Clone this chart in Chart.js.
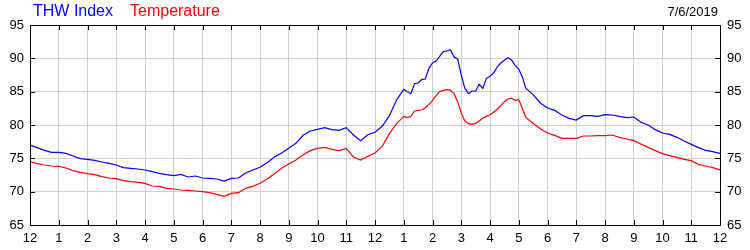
<!DOCTYPE html>
<html>
<head>
<meta charset="utf-8">
<script src="https://cdn.jsdelivr.net/npm/chart.js@4.4.1/dist/chart.umd.min.js"></script>
<style>
  body { margin: 0; background: #fff; }
  #wrap { width: 750px; height: 250px; }
</style>
</head>
<body>
<div id="wrap"><canvas id="weatherChart" width="750" height="250"></canvas></div>
<script>
// Horas del día (0 = medianoche, 24 = medianoche siguiente)
const times = [
    0, 0.25, 0.5, 0.75,
    1, 1.25, 1.5, 1.75,
    2, 2.25, 2.5, 2.75,
    3, 3.25, 3.5, 3.75,
    4, 4.25, 4.5, 4.75,
    5, 5.25, 5.5, 5.75,
    6, 6.25, 6.5, 6.75,
    7, 7.25, 7.5, 7.75,
    8, 8.25, 8.5, 8.75,
    9, 9.25, 9.5, 9.75,
    10, 10.25, 10.5, 10.75,
    11, 11.25, 11.5, 11.75,
    12, 12.25, 12.5, 12.75,
    13, 13.125, 13.25, 13.375, 13.5, 13.625, 13.75, 13.875,
    14, 14.125, 14.25, 14.375, 14.5, 14.625, 14.75, 14.875,
    15, 15.125, 15.25, 15.375, 15.5, 15.625, 15.75, 15.875,
    16, 16.125, 16.25, 16.375, 16.5, 16.625, 16.75, 16.875,
    17, 17.125, 17.25, 17.5, 17.75,
    18, 18.25, 18.5, 18.75,
    19, 19.25, 19.5, 19.75,
    20, 20.25, 20.5, 20.75,
    21, 21.25, 21.5, 21.75,
    22, 22.25, 22.5, 22.75,
    23, 23.25, 23.5, 23.75,
    24
];

const thwIndex = [
    77.0, 76.6, 76.2, 75.9,
    75.9, 75.75, 75.35, 74.95,
    74.85, 74.7, 74.45, 74.25,
    74.0, 73.6, 73.5, 73.4,
    73.25, 73.0, 72.75, 72.55,
    72.4, 72.6, 72.2, 72.35,
    72.05, 72.0, 71.9, 71.6,
    72.0, 72.05, 72.8, 73.25,
    73.65, 74.35, 75.2, 75.8,
    76.5, 77.25, 78.45, 79.1,
    79.35, 79.6, 79.3, 79.2,
    79.6, 78.5, 77.65, 78.55,
    78.9, 79.8, 81.4, 83.75,
    85.35, 85.0, 84.7, 86.2, 86.3, 86.8, 86.9, 88.5,
    89.3, 89.6, 90.3, 91.0, 91.1, 91.3, 90.2, 89.9,
    87.5, 85.5, 84.7, 85.1, 85.1, 86.1, 85.5, 87.0,
    87.3, 87.8, 88.7, 89.3, 89.7, 90.1, 89.75, 88.9,
    88.4, 87.2, 85.5, 84.55, 83.3,
    82.55, 82.2, 81.5, 81.0,
    80.75, 81.4, 81.4, 81.3,
    81.55, 81.5, 81.3, 81.1,
    81.2, 80.4, 80.0, 79.3,
    78.8, 78.6, 78.15, 77.6,
    77.1, 76.6, 76.2, 76.0,
    75.75
];

const temperature = [
    74.5, 74.2, 74.0, 73.85,
    73.8, 73.55, 73.15, 72.9,
    72.7, 72.55, 72.25, 72.05,
    71.95, 71.65, 71.5, 71.4,
    71.25, 70.85, 70.8, 70.5,
    70.4, 70.25, 70.2, 70.1,
    70.0, 69.85, 69.6, 69.3,
    69.75, 69.85, 70.5, 70.8,
    71.25, 71.9, 72.7, 73.5,
    74.15, 74.75, 75.55, 76.15,
    76.5, 76.65, 76.35, 76.15,
    76.5, 75.2, 74.75, 75.3,
    75.8, 76.8, 78.7, 80.2,
    81.3, 81.1, 81.3, 82.1, 82.2, 82.25, 82.6, 83.1,
    83.7, 84.4, 85.0, 85.2, 85.3, 85.2, 84.7, 83.5,
    81.8, 80.6, 80.2, 80.1, 80.25, 80.6, 81.0, 81.3,
    81.5, 81.9, 82.35, 82.9, 83.5, 83.9, 84.0, 83.7,
    83.8, 82.5, 81.1, 80.25, 79.45,
    78.8, 78.45, 78.0, 78.0,
    78.0, 78.35, 78.35, 78.4,
    78.4, 78.5, 78.15, 77.9,
    77.65, 77.15, 76.65, 76.15,
    75.7, 75.4, 75.15, 74.85,
    74.65, 74.1, 73.85, 73.6,
    73.25
];

// Etiquetas del eje horizontal
const hourLabels = ['12', '1', '2', '3', '4', '5', '6', '7', '8', '9', '10', '11',
                    '12', '1', '2', '3', '4', '5', '6', '7', '8', '9', '10', '11', '12'];
const seriesNames = ['THW Index', 'Temperature'];
const dateLabel = '7/6/2019';

const tickFont = { family: 'Liberation Sans', size: 13 };

// Marco negro, marcas interiores y cabecera
const framePlugin = {
    id: 'frame',
    afterDraw(chart) {
        const ctx = chart.ctx;
        const a = chart.chartArea;
        const x = chart.scales.x;
        const y = chart.scales.y;
        ctx.save();
        ctx.strokeStyle = '#000';
        ctx.lineWidth = 1;
        ctx.strokeRect(a.left + 0.5, a.top + 0.5, a.right - a.left, a.bottom - a.top);

        ctx.beginPath();
        x.ticks.forEach(t => {
            const px = Math.round(x.getPixelForValue(t.value)) + 0.5;
            ctx.moveTo(px, a.top);
            ctx.lineTo(px, a.top + 5);
            ctx.moveTo(px, a.bottom);
            ctx.lineTo(px, a.bottom - 5);
        });
        y.ticks.forEach(t => {
            const py = Math.round(y.getPixelForValue(t.value)) + 0.5;
            ctx.moveTo(a.left, py);
            ctx.lineTo(a.left + 5, py);
            ctx.moveTo(a.right, py);
            ctx.lineTo(a.right - 5, py);
        });
        ctx.stroke();

        ctx.textBaseline = 'middle';
        ctx.font = '16px "Liberation Sans"';
        ctx.textAlign = 'left';
        ctx.fillStyle = '#0000ff';
        ctx.fillText(seriesNames[0], 33, 12);
        ctx.fillStyle = '#ff0000';
        ctx.fillText(seriesNames[1], 130, 12);
        ctx.font = '13px "Liberation Sans"';
        ctx.textAlign = 'right';
        ctx.fillStyle = '#000';
        ctx.fillText(dateLabel, 718, 12);
        ctx.restore();
    }
};

const config = {
    type: 'line',
    data: {
        datasets: [{
            label: seriesNames[0],
            data: times.map((t, i) => ({ x: t, y: thwIndex[i] })),
            borderColor: '#0000ff',
            borderWidth: 1.2,
            pointRadius: 0,
            tension: 0,
            fill: false,
        }, {
            label: seriesNames[1],
            data: times.map((t, i) => ({ x: t, y: temperature[i] })),
            borderColor: '#ff0000',
            borderWidth: 1.2,
            pointRadius: 0,
            tension: 0,
            fill: false,
        }],
    },
    options: {
        responsive: false,
        animation: false,
        layout: { padding: { top: 25, left: 0, right: 0, bottom: 0 } },
        plugins: {
            legend: { display: false },
            tooltip: { enabled: false },
        },
        scales: {
            x: {
                type: 'linear',
                min: 0,
                max: 24,
                afterFit: s => { s.height = 25; },
                grid: { color: '#d0d0d0', drawTicks: false },
                border: { display: false },
                ticks: {
                    stepSize: 1,
                    padding: 6,
                    maxRotation: 0,
                    autoSkip: false,
                    color: '#000',
                    font: tickFont,
                    callback: v => hourLabels[v],
                },
            },
            y: {
                position: 'left',
                min: 65,
                max: 95,
                afterFit: s => { s.width = 30; },
                grid: { color: '#d0d0d0', drawTicks: false },
                border: { display: false },
                ticks: { stepSize: 5, padding: 6, color: '#000', font: tickFont },
            },
            y2: {
                position: 'right',
                min: 65,
                max: 95,
                afterFit: s => { s.width = 30; },
                grid: { display: false, drawTicks: false },
                border: { display: false },
                ticks: { stepSize: 5, padding: 7, color: '#000', font: tickFont },
            },
        },
    },
    plugins: [framePlugin],
};

const ctx = document.getElementById('weatherChart').getContext('2d');
new Chart(ctx, config);
</script>
</body>
</html>
